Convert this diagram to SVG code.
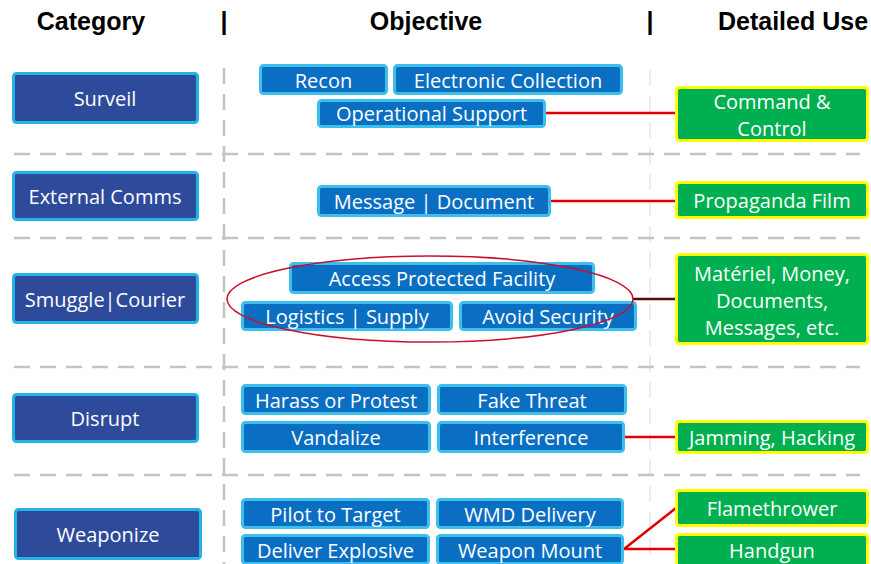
<svg xmlns="http://www.w3.org/2000/svg" width="871" height="564" viewBox="0 0 871 564">
<style>
.hdr{font-family:"Liberation Sans",Arial,sans-serif;font-weight:bold;font-size:25px;fill:#000;text-anchor:middle}
.t{font-family:"Open Sans","Noto Sans",sans-serif;font-size:20px;fill:#fff;text-anchor:middle;dominant-baseline:central}
.cat{fill:#2E4A9A;stroke:#22B4E6;stroke-width:3}
.obj{fill:#0A6FC2;stroke:#3CBFEA;stroke-width:3}
.use{fill:#00B050;stroke:#FFFF00;stroke-width:3}
.div{stroke:#C4C4C4;stroke-width:2.5;stroke-dasharray:16 10;fill:none}
.div2{stroke:#ECECEC;stroke-width:2;stroke-dasharray:16 10;fill:none}
.con{stroke:#E00000;stroke-width:2.5;fill:none}
</style>
<rect width="871" height="564" fill="#fff"/>
<g id="headers">
<text class="hdr" x="91" y="30">Category</text>
<text class="hdr" x="224" y="30">|</text>
<text class="hdr" x="426" y="30">Objective</text>
<text class="hdr" x="650" y="30">|</text>
<text class="hdr" x="793" y="30">Detailed Use</text>
</g>
<g id="grid">
<line class="div2" x1="650" y1="70" x2="650" y2="564"/>
<line class="div" x1="224" y1="68" x2="224" y2="564"/>
<line class="div" x1="14" y1="154" x2="860" y2="154"/>
<line class="div" x1="14" y1="238" x2="860" y2="238"/>
<line class="div" x1="14" y1="367" x2="860" y2="367"/>
<line class="div" x1="14" y1="475" x2="860" y2="475"/>
</g>
<g id="connectors">
<line class="con" x1="546" y1="113" x2="676" y2="113"/>
<line class="con" x1="551" y1="201" x2="676" y2="201"/>
<line class="con" x1="625" y1="437" x2="676" y2="437"/>
<polyline class="con" points="676,508 624,549 676,549"/>
<line x1="633" y1="299" x2="676" y2="299" stroke="#5A0A0A" stroke-width="2.5"/>
</g>
<g id="cat-surveil"><rect class="cat" x="13.5" y="73.5" width="184" height="49" rx="3"/><text class="t" x="105" y="98">Surveil</text></g>
<g id="cat-external"><rect class="cat" x="13.5" y="172.5" width="184" height="47" rx="3"/><text class="t" x="105" y="196">External Comms</text></g>
<g id="cat-smuggle"><rect class="cat" x="13.5" y="274.5" width="184" height="48" rx="3"/><text class="t" x="105" y="299">Smuggle|Courier</text></g>
<g id="cat-disrupt"><rect class="cat" x="13.5" y="394.5" width="184" height="47" rx="3"/><text class="t" x="105" y="418">Disrupt</text></g>
<g id="cat-weaponize"><rect class="cat" x="15.5" y="509.5" width="185" height="49" rx="3"/><text class="t" x="108" y="534">Weaponize</text></g>

<g id="obj-recon"><rect class="obj" x="260.5" y="65.5" width="126" height="28" rx="3"/><text class="t" x="323.5" y="80">Recon</text></g>
<g id="obj-electronic"><rect class="obj" x="394.5" y="65.5" width="227" height="28" rx="3"/><text class="t" x="508" y="80">Electronic Collection</text></g>
<g id="obj-opsupport"><rect class="obj" x="318.5" y="100.5" width="226" height="26" rx="3"/><text class="t" x="431.5" y="113">Operational Support</text></g>
<g id="obj-message"><rect class="obj" x="318.5" y="186.5" width="231" height="29" rx="3"/><text class="t" x="434" y="201">Message | Document</text></g>
<g id="obj-access"><rect class="obj" x="290.5" y="263.5" width="303" height="29" rx="3"/><text class="t" x="442" y="278">Access Protected Facility</text></g>
<g id="obj-logistics"><rect class="obj" x="242.5" y="302.5" width="209" height="27" rx="3"/><text class="t" x="347" y="316">Logistics | Supply</text></g>
<g id="obj-avoid"><rect class="obj" x="460.5" y="302.5" width="175" height="27" rx="3"/><text class="t" x="548" y="316">Avoid Security</text></g>
<g id="obj-harass"><rect class="obj" x="242.5" y="385.5" width="187" height="28" rx="3"/><text class="t" x="336" y="400">Harass or Protest</text></g>
<g id="obj-fake"><rect class="obj" x="438.5" y="385.5" width="187" height="28" rx="3"/><text class="t" x="532" y="400">Fake Threat</text></g>
<g id="obj-vandalize"><rect class="obj" x="242.5" y="422.5" width="187" height="29" rx="3"/><text class="t" x="336" y="437">Vandalize</text></g>
<g id="obj-interference"><rect class="obj" x="438.5" y="422.5" width="185" height="29" rx="3"/><text class="t" x="531" y="437">Interference</text></g>
<g id="obj-pilot"><rect class="obj" x="242.5" y="499.5" width="186" height="28" rx="3"/><text class="t" x="335.5" y="514">Pilot to Target</text></g>
<g id="obj-wmd"><rect class="obj" x="437.5" y="499.5" width="185" height="28" rx="3"/><text class="t" x="530" y="514">WMD Delivery</text></g>
<g id="obj-deliver"><rect class="obj" x="242.5" y="535.5" width="186" height="28" rx="3"/><text class="t" x="335.5" y="550">Deliver Explosive</text></g>
<g id="obj-weaponmount"><rect class="obj" x="437.5" y="535.5" width="185" height="28" rx="3"/><text class="t" x="530" y="550">Weapon Mount</text></g>

<g id="group-ellipse"><ellipse cx="430" cy="299" rx="203" ry="43" fill="none" stroke="#C8102E" stroke-width="1.5"/></g>

<g id="use-command"><rect class="use" x="676.5" y="87.5" width="191" height="53" rx="3"/><text class="t" x="772" y="101">Command &amp;</text><text class="t" x="772" y="128">Control</text></g>
<g id="use-propaganda"><rect class="use" x="676.5" y="182.5" width="191" height="35" rx="3"/><text class="t" x="772" y="200">Propaganda Film</text></g>
<g id="use-materiel"><rect class="use" x="676.5" y="254.5" width="191" height="89" rx="3"/><text class="t" x="772" y="273">Matériel, Money,</text><text class="t" x="772" y="300">Documents,</text><text class="t" x="772" y="327">Messages, etc.</text></g>
<g id="use-jamming"><rect class="use" x="676.5" y="421.5" width="191" height="31" rx="3"/><text class="t" x="772" y="437">Jamming, Hacking</text></g>
<g id="use-flame"><rect class="use" x="676.5" y="490.5" width="191" height="35" rx="3"/><text class="t" x="772" y="508">Flamethrower</text></g>
<g id="use-handgun"><rect class="use" x="676.5" y="534.5" width="191" height="33" rx="3"/><text class="t" x="772" y="550">Handgun</text></g>
</svg>
